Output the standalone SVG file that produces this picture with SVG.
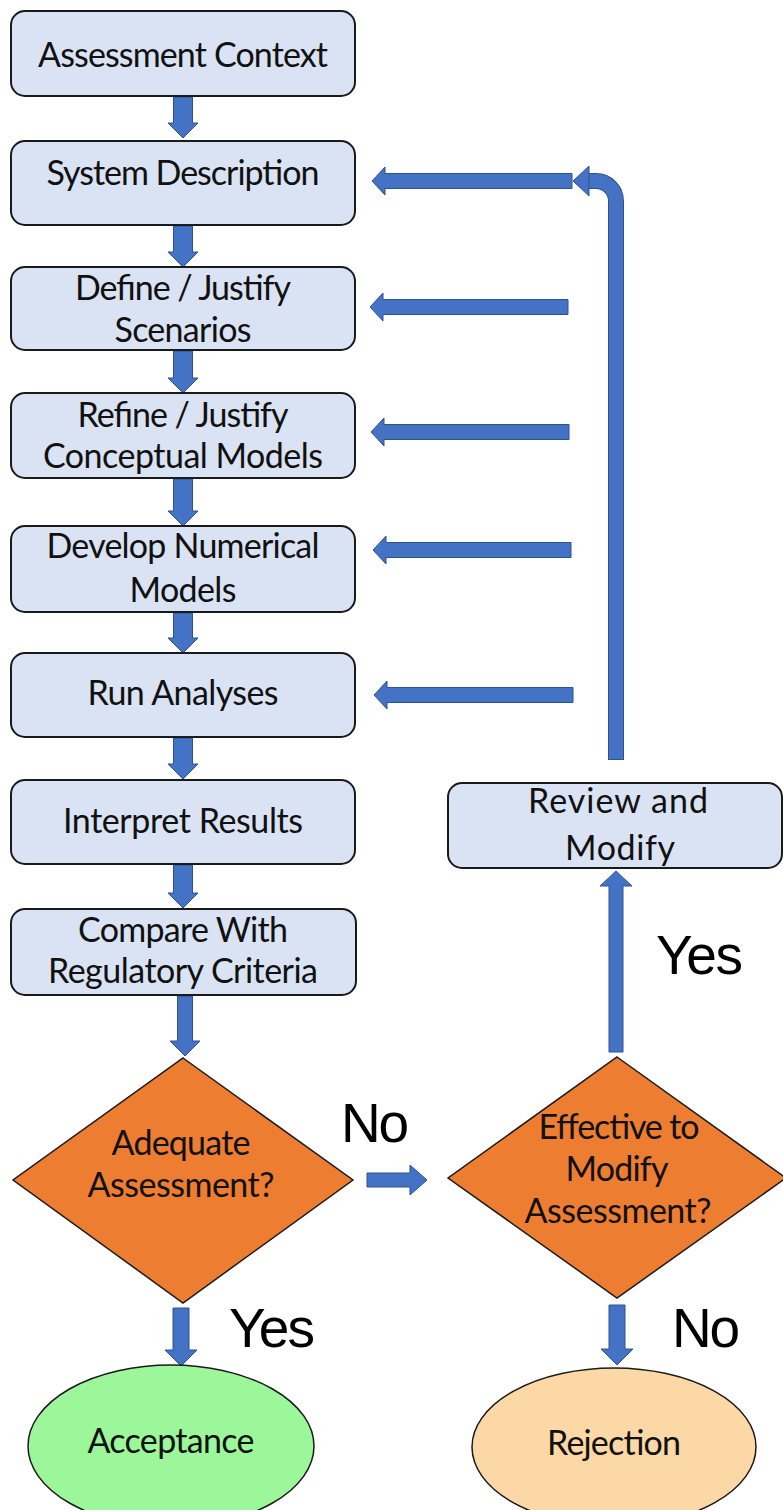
<svg xmlns="http://www.w3.org/2000/svg" width="783" height="1510" viewBox="0 0 783 1510">
<style>
.box{fill:#DAE3F3;stroke:#1a1a1a;stroke-width:2}
.dia{fill:#ED7D31;stroke:#1a1a1a;stroke-width:1.5}
.arr{fill:#4472C4;stroke:#2F528F;stroke-width:1}
.t{font-family:Lato,"Open Sans",sans-serif;font-size:34px;fill:#111;text-anchor:middle}
.lbl{font-family:"Liberation Sans",Arial,sans-serif;font-size:55px;fill:#000}
</style>
<rect width="783" height="1510" fill="#fff"/>
<g id="connectors">
<polygon class="arr" points="173.5,97 192.5,97 192.5,123 198,123 183,138 168,123 173.5,123"/>
<polygon class="arr" points="173.5,226 192.5,226 192.5,252 198,252 183,267 168,252 173.5,252"/>
<polygon class="arr" points="173.5,351 192.5,351 192.5,378 198,378 183,393 168,378 173.5,378"/>
<polygon class="arr" points="173.5,479 192.5,479 192.5,511 198,511 183,526 168,511 173.5,511"/>
<polygon class="arr" points="173.5,613 192.5,613 192.5,638 198,638 183,653 168,638 173.5,638"/>
<polygon class="arr" points="173.5,738 192.5,738 192.5,764 198,764 183,779 168,764 173.5,764"/>
<polygon class="arr" points="173.5,865 192.5,865 192.5,893 198,893 183,908 168,893 173.5,893"/>
<polygon class="arr" points="177.5,996 192.5,996 192.5,1041 200,1041 185,1056 170,1041 177.5,1041"/>
<polygon class="arr" points="372,181 385,167 385,173.5 572,173.5 572,188.5 385,188.5 385,195"/>
<polygon class="arr" points="370,307 383,293 383,299.5 568,299.5 568,314.5 383,314.5 383,321"/>
<polygon class="arr" points="371,432 384,418 384,424.5 569,424.5 569,439.5 384,439.5 384,446"/>
<polygon class="arr" points="373,550 386,536 386,542.5 571,542.5 571,557.5 386,557.5 386,564"/>
<polygon class="arr" points="374,695 387,681 387,687.5 573,687.5 573,702.5 387,702.5 387,709"/>
<path d="M 586 181 H 596 A 20 20 0 0 1 616 201 V 760" fill="none" stroke="#2F528F" stroke-width="16"/>
<path d="M 586 181 H 596 A 20 20 0 0 1 616 201 V 759" fill="none" stroke="#4472C4" stroke-width="14"/>
<polygon class="arr" points="573,181 589,166 589,196"/>
<polygon class="arr" points="616,871 632,886 623,886 623,1052 609,1052 609,886 600,886"/>
<polygon class="arr" points="367,1173 410,1173 410,1165 427,1180 410,1195 410,1187 367,1187"/>
<polygon class="arr" points="173,1308 189,1308 189,1350 197,1350 181,1366 165,1350 173,1350"/>
<polygon class="arr" points="609,1305 625,1305 625,1349 633,1349 617,1365 601,1349 609,1349"/>
</g>
<g id="n-context"><rect class="box" x="11" y="11" width="344" height="85" rx="14"/><text class="t" x="183" y="67" textLength="290">Assessment Context</text></g>
<g id="n-system"><rect class="box" x="11" y="141" width="344" height="84" rx="14"/><text class="t" x="183" y="185" textLength="273">System Description</text></g>
<g id="n-scenarios"><rect class="box" x="11" y="267" width="344" height="83" rx="14"/><text class="t" x="183" y="300" textLength="216">Define / Justify</text><text class="t" x="183" y="342" textLength="137">Scenarios</text></g>
<g id="n-conceptual"><rect class="box" x="11" y="393" width="344" height="85" rx="14"/><text class="t" x="183" y="427" textLength="211">Refine / Justify</text><text class="t" x="183" y="468" textLength="280">Conceptual Models</text></g>
<g id="n-numerical"><rect class="box" x="11" y="526" width="344" height="86" rx="14"/><text class="t" x="183" y="558" textLength="273">Develop Numerical</text><text class="t" x="183" y="602" textLength="107">Models</text></g>
<g id="n-run"><rect class="box" x="11" y="653" width="344" height="84" rx="14"/><text class="t" x="183" y="705" textLength="191">Run Analyses</text></g>
<g id="n-interpret"><rect class="box" x="11" y="780" width="344" height="84" rx="14"/><text class="t" x="183" y="833" textLength="240">Interpret Results</text></g>
<g id="n-compare"><rect class="box" x="11" y="909" width="345" height="86" rx="14"/><text class="t" x="183" y="942" textLength="210">Compare With</text><text class="t" x="183" y="983" textLength="270">Regulatory Criteria</text></g>
<g id="n-review"><rect class="box" x="448" y="783" width="334" height="85" rx="14"/><text class="t" x="618" y="813" textLength="180">Review and</text><text class="t" x="620" y="860" textLength="110">Modify</text></g>
<g id="n-adequate"><polygon class="dia" points="183,1058 353,1180 183,1303 13,1180"/><text class="t" x="181" y="1155" textLength="139">Adequate</text><text class="t" x="181" y="1197" textLength="187">Assessment?</text></g>
<g id="n-effective"><polygon class="dia" points="617,1057 786,1178 617,1298 448,1178"/><text class="t" x="619" y="1139" textLength="161">Effective to</text><text class="t" x="617" y="1181" textLength="103">Modify</text><text class="t" x="618" y="1223" textLength="187">Assessment?</text></g>
<g id="n-acceptance"><ellipse cx="171" cy="1446" rx="143" ry="81" fill="#9CF79A" stroke="#1a1a1a" stroke-width="1.5"/><text class="t" x="171" y="1453" textLength="167">Acceptance</text></g>
<g id="n-rejection"><ellipse cx="614" cy="1447" rx="142" ry="79" fill="#FBD8A5" stroke="#1a1a1a" stroke-width="1.5"/><text class="t" x="614" y="1455" textLength="134">Rejection</text></g>
<g id="labels">
<text class="lbl" x="341" y="1142" textLength="68">No</text>
<text class="lbl" x="656" y="974" textLength="87">Yes</text>
<text class="lbl" x="229" y="1347" textLength="86">Yes</text>
<text class="lbl" x="672" y="1347" textLength="68">No</text>
</g>
</svg>
